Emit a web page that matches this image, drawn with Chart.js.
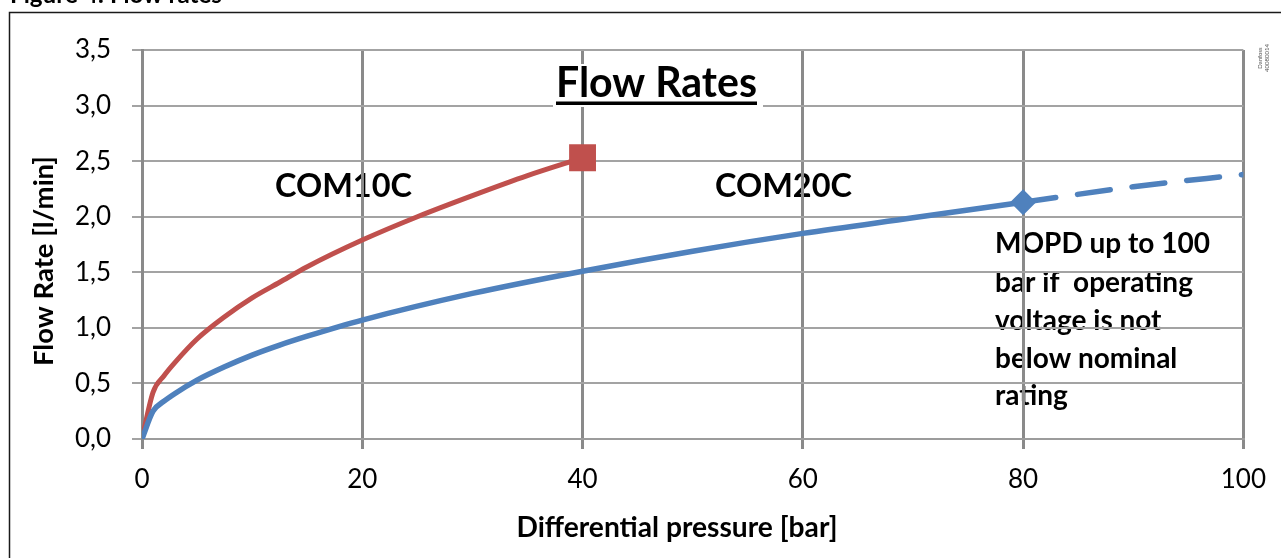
<!DOCTYPE html>
<html>
<head>
<meta charset="utf-8">
<script src="https://cdn.jsdelivr.net/npm/chart.js@4.4.1/dist/chart.umd.min.js"></script>
<style>
html,body{margin:0;padding:0;background:#fff;overflow:hidden}
#wrap{width:1281px;height:558px;position:relative}
canvas{display:block}
</style>
</head>
<body>
<div id="wrap"><canvas id="c" width="1281" height="558"></canvas></div>
<script>
// ---- data ----
const pressureCOM10C = [0, 1, 2, 3, 5, 7.5, 10, 12.5, 15, 20, 25, 30, 35, 40];
const flowCOM10C     = [0, 0.42, 0.57, 0.69, 0.90, 1.10, 1.27, 1.41, 1.55, 1.79, 2.00, 2.19, 2.37, 2.53];
const pressureCOM20C = [0, 1, 2, 3, 5, 7.5, 10, 12.5, 15, 20, 30, 40, 50, 60, 70, 80];
const flowCOM20C     = [0, 0.25, 0.34, 0.41, 0.53, 0.65, 0.755, 0.845, 0.925, 1.07, 1.31, 1.51, 1.69, 1.85, 1.99, 2.13];
const pressureExt    = [80, 90, 100];
const flowExt        = [2.13, 2.27, 2.38];
const xTicks         = [0, 20, 40, 60, 80, 100];
const yTicks         = [0, 0.5, 1, 1.5, 2, 2.5, 3, 3.5];
const yTickLabels    = ['0,0', '0,5', '1,0', '1,5', '2,0', '2,5', '3,0', '3,5'];
const chartTitle     = 'Flow Rates';
const xTitle         = 'Differential pressure [bar]';
const yTitle         = 'Flow Rate [l/min]';
const caption        = 'Figure 4: Flow rates';
const labelCOM10C    = 'COM10C';
const labelCOM20C    = 'COM20C';
const noteLines      = ['MOPD up to 100', 'bar if  operating', 'voltage is not', 'below nominal', 'rating'];
const stampLines     = ['Danfoss', '40080014'];

const pts = (xs, ys) => xs.map((x, i) => ({ x: x, y: ys[i] }));
const RED = '#C0504D', BLUE = '#4F81BD';
const FAM = 'Lato, "Open Sans", sans-serif';

function fitFont(ctx, text, weight, targetW) {
  ctx.font = weight + ' 100px ' + FAM;
  const w = ctx.measureText(text).width;
  const size = 100 * targetW / w;
  ctx.font = weight + ' ' + size.toFixed(2) + 'px ' + FAM;
  return size;
}

const annot = {
  id: 'annot',
  beforeDraw(chart) {
    const ctx = chart.ctx;
    ctx.save();
    // outer frame
    ctx.strokeStyle = '#1a1a1a';
    ctx.lineWidth = 1.5;
    ctx.beginPath();
    ctx.moveTo(9.5, 560); ctx.lineTo(9.5, 12.5); ctx.lineTo(1285, 12.5);
    ctx.stroke();
    ctx.fillStyle = '#000';
    ctx.textBaseline = 'alphabetic';
    ctx.textAlign = 'left';
    // caption (cut off at the top)
    fitFont(ctx, caption, 'bold', 212);
    ctx.fillText(caption, 10, 3);
    // series labels
    fitFont(ctx, labelCOM10C, 'bold', 137);
    ctx.fillText(labelCOM10C, 275, 197);
    fitFont(ctx, labelCOM20C, 'bold', 137);
    ctx.fillText(labelCOM20C, 715, 197);
    // note
    fitFont(ctx, noteLines[0], 'bold', 215);
    const base = [253, 292, 330, 368, 405];
    noteLines.forEach((t, i) => ctx.fillText(t, 995, base[i]));
    // x axis title
    fitFont(ctx, xTitle, 'bold', 321);
    ctx.textAlign = 'center';
    ctx.fillText(xTitle, 677, 537);
    // y axis title
    ctx.save();
    ctx.translate(53, 261);
    ctx.rotate(-Math.PI / 2);
    fitFont(ctx, yTitle, 'bold', 210);
    ctx.fillText(yTitle, 0, 0);
    ctx.restore();
    // stamp
    ctx.save();
    ctx.translate(1262, 58);
    ctx.rotate(-Math.PI / 2);
    ctx.fillStyle = '#555';
    ctx.font = '6px ' + FAM;
    ctx.textAlign = 'center';
    ctx.fillText(stampLines[0], 0, 0);
    ctx.fillText(stampLines[1], 0, 7);
    ctx.restore();
    ctx.restore();
  },
  beforeDatasetsDraw(chart) {
    const ctx = chart.ctx;
    ctx.save();
    ctx.fillStyle = '#fff';
    ctx.fillRect(553, 64, 210, 43);
    ctx.fillStyle = '#000';
    ctx.textAlign = 'left';
    ctx.textBaseline = 'alphabetic';
    fitFont(ctx, chartTitle, 'bold', 201);
    ctx.fillText(chartTitle, 556, 97);
    ctx.fillRect(556, 101.5, 201, 3.5);
    ctx.restore();
  }
};

new Chart(document.getElementById('c'), {
  type: 'scatter',
  data: {
    datasets: [
      {
        label: labelCOM20C,
        data: pts(pressureCOM20C, flowCOM20C),
        showLine: true,
        borderColor: BLUE,
        backgroundColor: BLUE,
        borderWidth: 5.5,
        cubicInterpolationMode: 'monotone',
        pointStyle: 'rectRot',
        pointRadius: c => c.dataIndex === pressureCOM20C.length - 1 ? 13 : 0,
        pointBorderWidth: 0,
        order: 1
      },
      {
        label: labelCOM20C + ' (up to 100 bar)',
        data: pts(pressureExt, flowExt),
        showLine: true,
        borderColor: BLUE,
        backgroundColor: BLUE,
        borderWidth: 5.5,
        borderDash: [33, 22],
        borderCapStyle: 'round',
        cubicInterpolationMode: 'monotone',
        pointRadius: 0,
        order: 2
      },
      {
        label: labelCOM10C,
        data: pts(pressureCOM10C, flowCOM10C),
        showLine: true,
        borderColor: RED,
        backgroundColor: RED,
        borderWidth: 5,
        cubicInterpolationMode: 'monotone',
        pointStyle: 'rect',
        pointRadius: c => c.dataIndex === pressureCOM10C.length - 1 ? 19 : 0,
        pointBorderWidth: 0,
        order: 3
      }
    ]
  },
  options: {
    responsive: false,
    animation: false,
    devicePixelRatio: 1,
    layout: { padding: { left: 0, right: 37, top: 50, bottom: 0 } },
    plugins: { legend: { display: false }, tooltip: { enabled: false } },
    scales: {
      x: {
        type: 'linear',
        min: 0, max: 100,
        afterBuildTicks: s => { s.ticks = xTicks.map(v => ({ value: v })); },
        afterFit: s => { s.height = 119; },
        ticks: { color: '#000', font: { family: FAM, size: 26 }, padding: 15, maxRotation: 0, callback: v => String(v) },
        grid: { color: '#8a8a8a', lineWidth: 3, tickLength: 10 },
        border: { color: '#9c9c9c', width: 2 }
      },
      y: {
        type: 'linear',
        min: 0, max: 3.5,
        afterBuildTicks: s => { s.ticks = yTicks.map(v => ({ value: v })); },
        afterFit: s => { s.width = 142; },
        ticks: { color: '#000', font: { family: FAM, size: 26 }, padding: 21, callback: (v, i) => yTickLabels[i] },
        grid: { color: '#a3a3a3', lineWidth: 2, tickLength: 10 },
        border: { color: '#8a8a8a', width: 3 }
      }
    }
  },
  plugins: [annot]
});
</script>
</body>
</html>
